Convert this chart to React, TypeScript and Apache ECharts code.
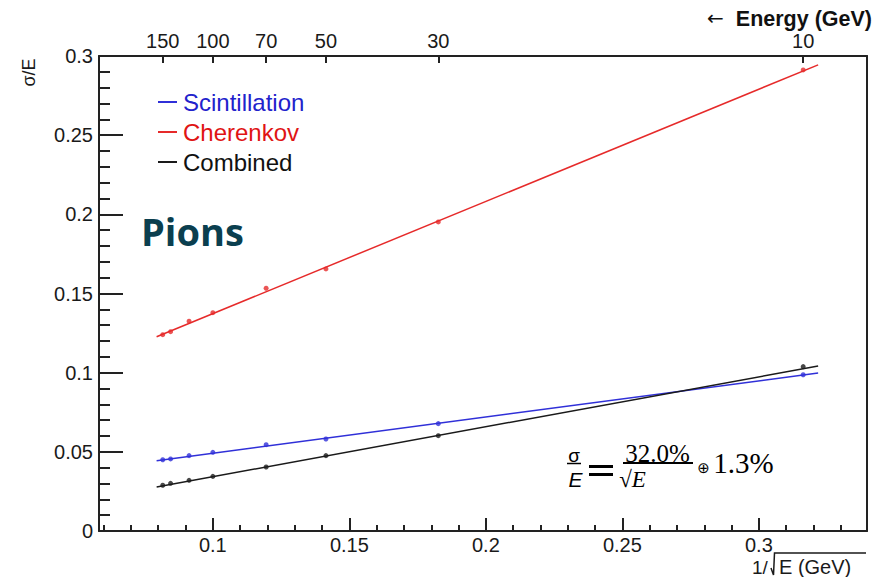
import React, { useEffect, useRef } from "react";
import * as echarts from "echarts";

// Beam energies (GeV) of the measured points
const ENERGIES = [150, 140, 120, 100, 70, 50, 30, 10];
// sigma/E
const SCINT = [0.045, 0.0455, 0.0476, 0.0497, 0.0545, 0.0581, 0.0678, 0.0987];
const CHER = [0.124, 0.1259, 0.1325, 0.1379, 0.1533, 0.1655, 0.1952, 0.2912];
const COMB = [0.0289, 0.0301, 0.032, 0.0345, 0.0404, 0.0476, 0.0602, 0.1038];

// Fit lines (end points)
const FIT_X = [0.0794, 0.3217];
const SCINT_FIT = [0.0444, 0.0998];
const CHER_FIT = [0.1227, 0.2944];
const COMB_FIT = [0.0278, 0.1042];

// Axis ticks
const X_MAJOR = [0.1, 0.15, 0.2, 0.25, 0.3];
const X_MINOR = [
  0.06, 0.07, 0.08, 0.09, 0.1, 0.11, 0.12, 0.13, 0.14, 0.15, 0.16, 0.17, 0.18,
  0.19, 0.2, 0.21, 0.22, 0.23, 0.24, 0.25, 0.26, 0.27, 0.28, 0.29, 0.3, 0.31,
  0.32, 0.33,
];
const ENERGY_TICKS = [150, 100, 70, 50, 30, 10];

const X_MIN = 0.0583;
const X_MAX = 0.3396;

const BLUE = "#3030d8";
const RED = "#e62a2a";
const BLACK = "#1a1a1a";
const AX = "#222222";
const FONT = '"Liberation Sans", Arial, Helvetica, sans-serif';
const SERIF = '"Liberation Serif", "Times New Roman", serif';

const X_VALUES = ENERGIES.map((e) => 1 / Math.sqrt(e));
const ENERGY_X = ENERGY_TICKS.map((e) => 1 / Math.sqrt(e));

function pts(ys: number[]) {
  return X_VALUES.map((x, i) => [x, ys[i]]);
}
function fit(ys: number[]) {
  return FIT_X.map((x, i) => [x, ys[i]]);
}

export default function App() {
  const ref = useRef<HTMLDivElement>(null);
  useEffect(() => {
    const chart = echarts.init(ref.current!, null, { renderer: "svg" });
    const lineSeries = (name: string, color: string, data: number[][]) => ({
      name,
      type: "line",
      xAxisIndex: 0,
      yAxisIndex: 0,
      data,
      showSymbol: false,
      symbol: "none",
      lineStyle: { color, width: 1.5 },
      itemStyle: { color },
      z: 3,
    });
    const scatterSeries = (name: string, color: string, data: number[][]) => ({
      name,
      type: "scatter",
      xAxisIndex: 0,
      yAxisIndex: 0,
      data,
      symbol: "circle",
      symbolSize: 5,
      itemStyle: { color },
      z: 4,
    });
    const tickStyle = { color: AX, width: 2 };
    const option: any = {
      animation: false,
      backgroundColor: "#ffffff",
      grid: [
        { left: 99, right: 8, top: 56, bottom: 46 },
        { left: 99, right: 8, top: 56, bottom: 46 },
      ],
      legend: {
        orient: "vertical",
        left: 153,
        top: 85,
        itemWidth: 19,
        itemHeight: 2,
        itemGap: 6,
        icon: "rect",
        selectedMode: false,
        textStyle: { fontSize: 24, fontFamily: FONT, padding: [0, 0, 0, 1] },
        data: [
          { name: "Scintillation", textStyle: { color: "#2222cc" } },
          { name: "Cherenkov", textStyle: { color: "#e01414" } },
          { name: "Combined", textStyle: { color: "#111111" } },
        ],
      },
      xAxis: [
        {
          gridIndex: 0,
          type: "value",
          position: "bottom",
          min: X_MIN,
          max: X_MAX,
          axisLine: { show: true, onZero: false, lineStyle: { color: AX, width: 2 } },
          axisTick: {
            show: true,
            inside: true,
            length: 6,
            customValues: X_MINOR,
            lineStyle: tickStyle,
          },
          axisLabel: {
            show: true,
            customValues: X_MAJOR,
            fontSize: 20,
            fontFamily: FONT,
            color: "#1a1a1a",
            margin: 4,
          },
          splitLine: { show: false },
        },
        {
          gridIndex: 0,
          type: "value",
          position: "top",
          min: X_MIN,
          max: X_MAX,
          axisLine: { show: true, onZero: false, lineStyle: { color: AX, width: 2 } },
          axisTick: {
            show: true,
            inside: true,
            length: 7,
            customValues: ENERGY_X,
            lineStyle: tickStyle,
          },
          axisLabel: {
            show: true,
            customValues: ENERGY_X,
            formatter: (v: number) => String(Math.round(1 / (v * v))),
            fontSize: 20,
            fontFamily: FONT,
            color: "#1a1a1a",
            margin: 5,
          },
          splitLine: { show: false },
        },
        {
          gridIndex: 1,
          type: "value",
          position: "bottom",
          min: X_MIN,
          max: X_MAX,
          axisLine: { show: false },
          axisTick: {
            show: true,
            inside: true,
            length: 13,
            customValues: X_MAJOR,
            lineStyle: tickStyle,
          },
          axisLabel: { show: false },
          splitLine: { show: false },
        },
      ],
      yAxis: [
        {
          gridIndex: 0,
          type: "value",
          position: "left",
          min: 0,
          max: 0.3,
          interval: 0.05,
          axisLine: { show: true, onZero: false, lineStyle: { color: AX, width: 2 } },
          axisTick: { show: true, inside: true, length: 24, lineStyle: tickStyle },
          minorTick: { show: true, splitNumber: 5, length: 11, lineStyle: tickStyle },
          axisLabel: { show: true, fontSize: 20, fontFamily: FONT, color: "#1a1a1a", margin: 6 },
          splitLine: { show: false },
        },
        {
          gridIndex: 0,
          type: "value",
          position: "right",
          min: 0,
          max: 0.3,
          axisLine: { show: true, onZero: false, lineStyle: { color: AX, width: 2 } },
          axisTick: { show: false },
          axisLabel: { show: false },
          splitLine: { show: false },
        },
        {
          gridIndex: 1,
          type: "value",
          show: false,
          min: 0,
          max: 0.3,
        },
      ],
      series: [
        lineSeries("Scintillation", BLUE, fit(SCINT_FIT)),
        lineSeries("Cherenkov", RED, fit(CHER_FIT)),
        lineSeries("Combined", BLACK, fit(COMB_FIT)),
        scatterSeries("Scintillation data", BLUE, pts(SCINT)),
        scatterSeries("Cherenkov data", RED, pts(CHER)),
        scatterSeries("Combined data", BLACK, pts(COMB)),
      ],
      graphic: [
        {
          type: "text",
          x: 141,
          y: 231,
          style: {
            text: "Pions",
            font: 'bold 38px "Open Sans", sans-serif',
            fill: "#0b3f4f",
            align: "left",
            verticalAlign: "middle",
          },
        },
        {
          type: "text",
          x: 28.5,
          y: 72.5,
          rotation: Math.PI / 2,
          style: {
            text: "σ/E",
            font: `18px ${FONT}`,
            fill: "#1a1a1a",
            align: "center",
            verticalAlign: "middle",
          },
        },
        {
          type: "text",
          x: 707,
          y: 18,
          style: {
            text: "←",
            font: `20px "DejaVu Sans", sans-serif`,
            fill: "#111",
            align: "left",
            verticalAlign: "middle",
          },
        },
        {
          type: "text",
          x: 872,
          y: 19,
          style: {
            text: "Energy (GeV)",
            font: `bold 21.5px ${FONT}`,
            fill: "#111",
            align: "right",
            verticalAlign: "middle",
          },
        },
        {
          type: "text",
          x: 752,
          y: 567,
          style: {
            text: "1/",
            font: `19px ${FONT}`,
            fill: "#1a1a1a",
            align: "left",
            verticalAlign: "middle",
          },
        },
        {
          type: "text",
          x: 779,
          y: 567,
          style: {
            text: "E (GeV)",
            font: `20px ${FONT}`,
            fill: "#1a1a1a",
            align: "left",
            verticalAlign: "middle",
          },
        },
        {
          type: "polyline",
          shape: { points: [[771, 568], [773.5, 575], [774.5, 553], [866, 553]] },
          style: { stroke: "#1a1a1a", lineWidth: 1.5, fill: null },
        },
        // formula
        {
          type: "text",
          x: 574,
          y: 455,
          style: { text: "σ", font: `19px ${FONT}`, fill: "#000", align: "center", verticalAlign: "middle" },
        },
        {
          type: "line",
          shape: { x1: 567, y1: 463.5, x2: 581, y2: 463.5 },
          style: { stroke: "#000", lineWidth: 1.5 },
        },
        {
          type: "text",
          x: 575.5,
          y: 479.5,
          style: { text: "E", font: `italic 21px ${FONT}`, fill: "#000", align: "center", verticalAlign: "middle" },
        },
        {
          type: "line",
          shape: { x1: 589, y1: 466.5, x2: 613, y2: 466.5 },
          style: { stroke: "#000", lineWidth: 3 },
        },
        {
          type: "line",
          shape: { x1: 589, y1: 474.5, x2: 613, y2: 474.5 },
          style: { stroke: "#000", lineWidth: 3 },
        },
        {
          type: "text",
          x: 657.5,
          y: 453,
          style: { text: "32.0%", font: `25px ${SERIF}`, fill: "#000", align: "center", verticalAlign: "middle" },
        },
        {
          type: "line",
          shape: { x1: 623, y1: 463, x2: 693, y2: 463 },
          style: { stroke: "#000", lineWidth: 2 },
        },
        {
          type: "text",
          x: 632.5,
          y: 479.5,
          style: { text: "√E", font: `italic 23px ${SERIF}`, fill: "#000", align: "center", verticalAlign: "middle" },
        },
        {
          type: "text",
          x: 703.5,
          y: 467.5,
          style: { text: "⊕", font: `15px "DejaVu Sans", sans-serif`, fill: "#000", align: "center", verticalAlign: "middle" },
        },
        {
          type: "text",
          x: 743.5,
          y: 462.5,
          style: { text: "1.3%", font: `29px ${SERIF}`, fill: "#000", align: "center", verticalAlign: "middle" },
        },
      ],
    };
    chart.setOption(option);
    return () => chart.dispose();
  }, []);
  return (
    <div
      ref={ref}
      style={{ position: "fixed", left: 0, top: 0, width: 875, height: 577, background: "#fff" }}
    />
  );
}
